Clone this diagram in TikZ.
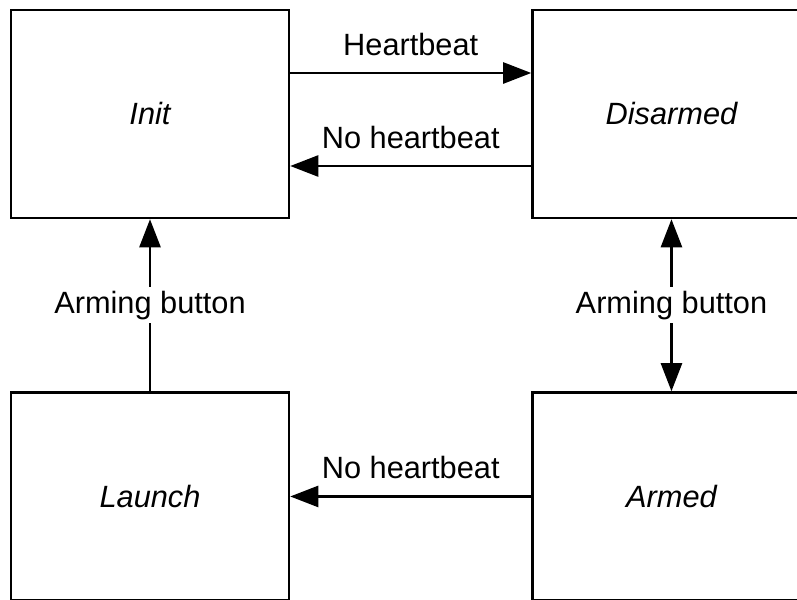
\documentclass[tikz,border=0pt]{standalone}
\usepackage{fontspec}
\setmainfont{Liberation Sans}
\usetikzlibrary{arrows.meta,positioning}

\begin{document}
\begin{tikzpicture}[
    node distance=3.44cm and 4.82cm,
    state/.style={rectangle, draw, line width=1.4pt, minimum width=5.56cm,
                  minimum height=4.16cm, font=\fontsize{17.5}{21}\selectfont\itshape,
                  fill=white, align=center},
    tarr/.style={-{Triangle[length=16pt,width=12pt]}, line width=1.4pt},
    darr/.style={{Triangle[length=16pt,width=12pt]}-{Triangle[length=16pt,width=12pt]}, line width=1.4pt},
    lbl/.style={font=\fontsize{17.5}{21}\selectfont, align=center},
]
\useasboundingbox (0,0) rectangle (15.94,-11.98);
\clip (0,0) rectangle (15.94,-11.98);

%% ── States ───────────────────────────────────────────────────────────────
\node[state] at (3.0,-2.28)            (init)     {Init};
\node[state, right=of init]            (disarmed) {Disarmed};
\node[state, below=of init]            (launch)   {Launch};
\node[state, below=of disarmed]        (armed)    {Armed};

%% ── Transitions ──────────────────────────────────────────────────────────
\draw[tarr] ([yshift=0.82cm]init.east) --
      node[above=6pt,lbl]{Heartbeat} ([yshift=0.82cm]init.east -| disarmed.west);
\draw[tarr] ([yshift=-1.04cm]disarmed.west) --
      node[above=6pt,lbl]{No heartbeat} ([yshift=-1.04cm]disarmed.west -| init.east);
\draw[tarr] (launch.north) -- node[lbl, fill=white, inner sep=2pt]{Arming button} (init.south);
\draw[darr] (disarmed.south) -- node[lbl, fill=white, inner sep=2pt]{Arming button} (armed.north);
\draw[tarr] (armed.west) -- node[above=6pt,lbl]{No heartbeat} (launch.east);

\end{tikzpicture}
\end{document}
